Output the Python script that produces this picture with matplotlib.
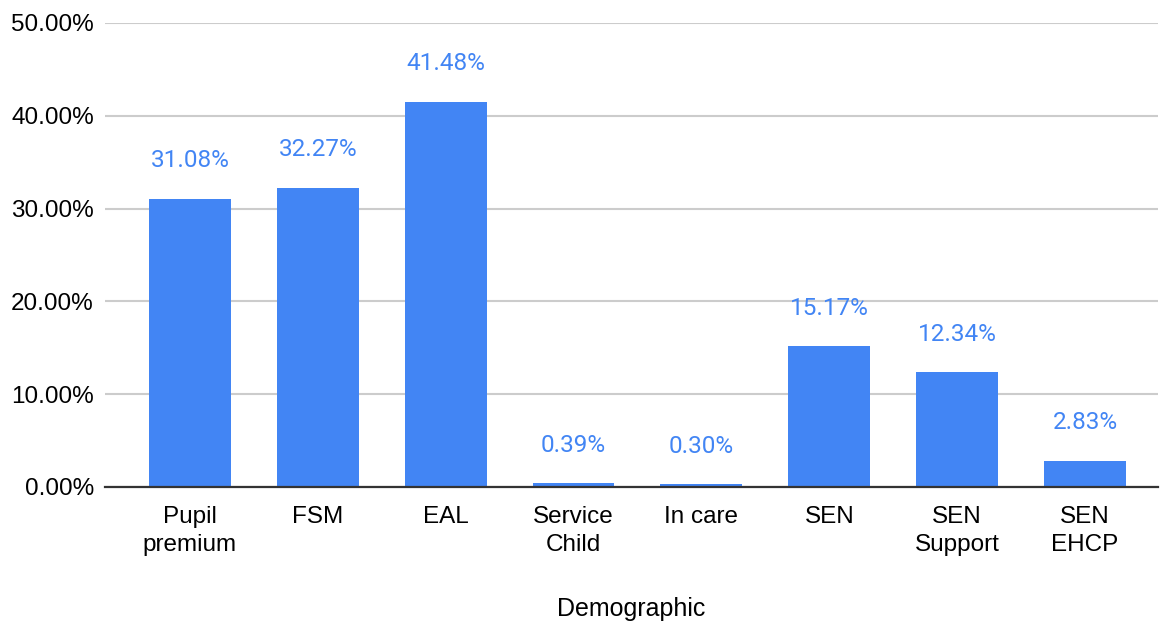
import matplotlib
matplotlib.use("Agg")
import matplotlib.pyplot as plt
from matplotlib.ticker import FuncFormatter

categories = ["Pupil\npremium", "FSM", "EAL", "Service\nChild", "In care", "SEN", "SEN\nSupport", "SEN\nEHCP"]
values = [31.08, 32.27, 41.48, 0.39, 0.30, 15.17, 12.34, 2.83]
yticks = [0, 10, 20, 30, 40, 50]

BLUE = "#4285F4"
fig = plt.figure(figsize=(11.61, 6.23), dpi=100)
ax = fig.add_axes([0.0904, 0.2183, 0.9070, 0.7448])

x = list(range(len(categories)))
ax.bar(x, values, width=0.64, color=BLUE, zorder=3)
for xi, v in zip(x, values):
    ax.annotate(f"{v:.2f}%", (xi, v), xytext=(0, 27.5), textcoords="offset points",
                ha="center", va="center", color=BLUE, fontsize=17.5, family="Roboto")

ax.set_xlim(-0.664, 7.57)
ax.set_ylim(0, 50)
ax.set_yticks(yticks)
ax.yaxis.set_major_formatter(FuncFormatter(lambda v, p: f"{v:.2f}%"))
ax.set_xticks(x)
ax.set_xticklabels(categories, family="Liberation Sans", fontsize=17.5, linespacing=1.34)
for lab in ax.get_yticklabels():
    lab.set_family("Liberation Sans")
    lab.set_fontsize(17.5)
ax.tick_params(axis="both", length=0)
ax.tick_params(axis="y", pad=8)
ax.tick_params(axis="x", pad=14)
ax.grid(axis="y", color="#cccccc", linewidth=1.5, zorder=0)
for s in ["top", "right", "left"]:
    ax.spines[s].set_visible(False)
ax.spines["bottom"].set_color("#333333")
ax.spines["bottom"].set_linewidth(1.6)
ax.spines["bottom"].set_zorder(4)
ax.set_xlabel("Demographic", family="Liberation Sans", fontsize=18, labelpad=29)

fig.savefig("out.png", dpi=100, facecolor="white")
